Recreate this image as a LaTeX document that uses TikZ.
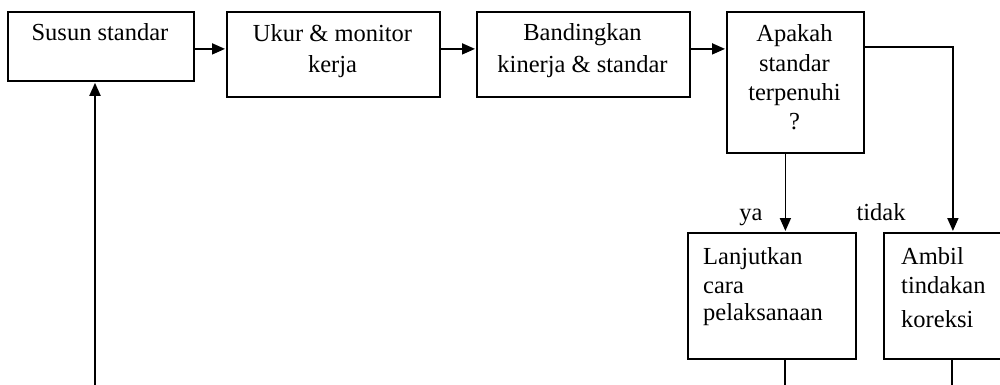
\documentclass[tikz,border=0pt]{standalone}
\usepackage{fontspec}
\setmainfont{Liberation Serif}
\usetikzlibrary{arrows.meta,calc}
\newcommand\fs{\fontsize{24.5}{29}\selectfont}
\tikzset{
  box/.style={draw, line width=1.8pt, inner sep=0pt, anchor=north west},
  txt/.style={inner sep=0pt, anchor=base, font=\fs},
  ltxt/.style={inner sep=0pt, anchor=base west, font=\fs},
  arr/.style={line width=1.8pt, -{Triangle[length=13pt,width=11pt]}, shorten >=1pt},
  ln/.style={line width=1.8pt}
}
\begin{document}
\begin{tikzpicture}[x=1pt,y=-1pt]
\useasboundingbox (0,0) rectangle (1000,385);
\clip (0,0) rectangle (1000,385);
% boxes
\node[box, minimum width=186pt, minimum height=69pt] (b1) at (7,11) {};
\node[box, minimum width=213pt, minimum height=85pt] (b2) at (226,11) {};
\node[box, minimum width=213pt, minimum height=85pt] (b3) at (476,11) {};
\node[box, minimum width=137pt, minimum height=141pt] (b4) at (726,11) {};
\node[box, minimum width=168pt, minimum height=126pt] (b5) at (687,232) {};
\node[box, minimum width=137pt, minimum height=126pt] (b6) at (883,232) {};
% texts
\node[txt] (t1) at (100,41) {Susun standar};
\node[txt] (t2a) at (332.5,42) {Ukur \& monitor};
\node[txt] (t2b) at (332.5,73) {kerja};
\node[txt] (t3a) at (582.5,41) {Bandingkan};
\node[txt] (t3b) at (582.5,73) {kinerja \& standar};
\node[txt] (t4a) at (794.5,42) {Apakah};
\node[txt] (t4b) at (794.5,72) {standar};
\node[txt] (t4c) at (794.5,101) {terpenuhi};
\node[txt] (t4d) at (794.5,129) {?};
\node[ltxt] (t5a) at (703,264) {Lanjutkan};
\node[ltxt] (t5b) at (703,293) {cara};
\node[ltxt] (t5c) at (703,320) {pelaksanaan};
\node[ltxt] (t6a) at (901,264) {Ambil};
\node[ltxt] (t6b) at (901,293) {tindakan};
\node[ltxt] (t6c) at (901,327) {koreksi};
\node[txt] (ya) at (751,220) {ya};
\node[txt] (tidak) at (881,220) {tidak};
% free ends
\coordinate (c1) at (95,386);
\coordinate (c5) at (785,386);
\coordinate (c6) at (952,386);
% connectors
\draw[arr] ([yshift=-2.5pt]b1.east) -- ([yshift=-2.5pt]b1.east -| b2.west);
\draw[arr] ([yshift=5.5pt]b2.east) -- ([yshift=5.5pt]b2.east -| b3.west);
\draw[arr] ([yshift=5.5pt]b3.east) -- ([yshift=5.5pt]b3.east -| b4.west);
\draw[arr] ([yshift=-36pt]b4.north east) -| ([xshift=0.5pt]b6.north);
\draw[arr] ([xshift=-10pt]b4.south) -- ([xshift=-10pt]b4.south |- b5.north);
\draw[ln] (b5.south -| c5) -- (c5);
\draw[ln] (b6.south -| c6) -- (c6);
\draw[arr] (c1) -- (c1 |- b1.south);
\end{tikzpicture}
\end{document}
